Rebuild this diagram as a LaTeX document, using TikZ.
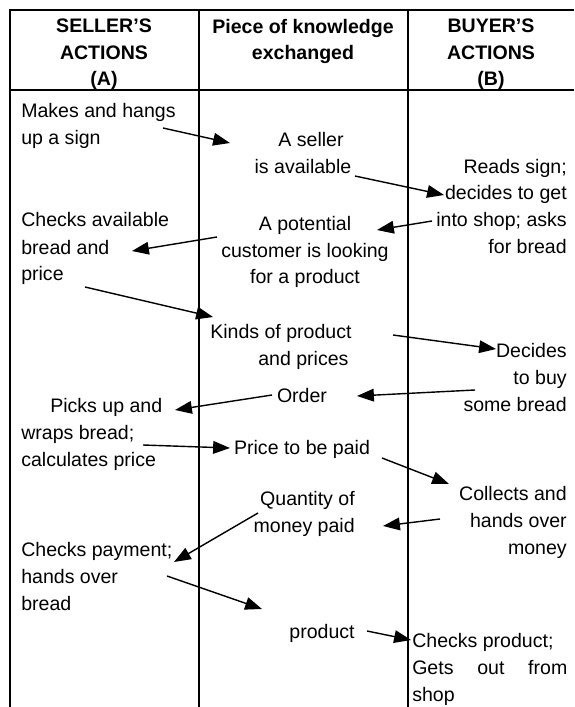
\documentclass[tikz,border=0pt]{standalone}
\usepackage{fontspec}
\setmainfont{Liberation Sans}
\usetikzlibrary{arrows.meta}

\tikzset{
  rule/.style={line width=1.4pt},
  flow/.style={line width=1pt, -{Triangle[length=12pt,width=9pt]}},
  head/.style={font=\fontsize{13.9}{18.9}\selectfont\bfseries, align=center, anchor=base, inner sep=0pt},
  say/.style={font=\fontsize{13.9}{19.2}\selectfont, inner sep=0pt},
}

\begin{document}
\begin{tikzpicture}[x=0.025cm, y=-0.025cm]
  \useasboundingbox (0,0) rectangle (574,707);

  % draw table frame
  \draw[rule] (574,10) -- (10,10) -- (10,707);
  \draw[rule] (10,90) -- (574,90);
  \draw[rule] (199,10) -- (199,707);
  \draw[rule] (408,10) -- (408,707);

  % column heads (placed by their last line)
  \node[head] (sellerhead) at (104,86) {SELLER'S\\ACTIONS\\(A)};
  \node[head] (piecehead)  at (303,60) {Piece of knowledge\\exchanged};
  \node[head] (buyerhead)  at (491,86) {BUYER'S\\ACTIONS\\(B)};

  % seller's actions
  \node[say, align=left, anchor=base west] (makes)    at (21,145) {Makes and hangs\\up a sign};
  \node[say, align=left, anchor=base west] (checks)   at (21,281) {Checks available\\bread and\\price};
  \node[say, align=left, anchor=base west] (picks)    at (21,466) {\hspace*{0.725cm}Picks up and\\wraps bread;\\calculates price};
  \node[say, align=left, anchor=base west] (checkpay) at (21,610) {Checks payment;\\hands over\\bread};

  % pieces of knowledge
  \node[say, align=center, anchor=base] (seller)    at (303,174) {\hspace*{0.4cm}A seller\\is available};
  \node[say, align=center, anchor=base] (potential) at (305,284) {A potential\\customer is looking\\for a product};
  \node[say, align=left, anchor=base west] (kinds)  at (210,365) {Kinds of product\\\hspace*{1.2cm}and prices};
  \node[say, anchor=base] (order)   at (302,402) {Order};
  \node[say, anchor=base] (price)   at (302,454) {Price to be paid};
  \node[say, align=right, anchor=base east] (quantity) at (355,532) {Quantity of\\money paid};
  \node[say, anchor=base] (product) at (322,638) {product};

  % buyer's actions
  \node[say, align=right, anchor=base east] (reads)    at (567,254) {Reads sign;\\decides to get\\into shop; asks\\for bread};
  \node[say, align=right, anchor=base east] (decides)  at (567,411) {Decides\\to buy\\some bread};
  \node[say, align=right, anchor=base east] (collects) at (567,554) {Collects and\\hands over\\money};
  \node[say, align=left, anchor=base west]  (checkprod) at (412,701) {Checks product;\\\makebox[3.875cm][s]{Gets out from}\\shop};

  % arrow ends
  \coordinate (signtail)   at (163,128);
  \coordinate (signtip)    at (230,143);
  \coordinate (availtail)  at (355,176);
  \coordinate (availtip)   at (444,195);
  \coordinate (askstail)   at (432,221);
  \coordinate (askstip)    at (377,230);
  \coordinate (lookstail)  at (217,237);
  \coordinate (lookstip)   at (132,251);
  \coordinate (pricetail)  at (85,287);
  \coordinate (pricetip)   at (213,317);
  \coordinate (kindstail)  at (393,335);
  \coordinate (kindstip)   at (496,349);
  \coordinate (buytail)    at (475,390);
  \coordinate (buytip)     at (357,396);
  \coordinate (ordertail)  at (272,395);
  \coordinate (ordertip)   at (175,410);
  \coordinate (wrapstail)  at (143,445);
  \coordinate (wrapstip)   at (230,448);
  \coordinate (paidtail)   at (382,458);
  \coordinate (paidtip)    at (449,484);
  \coordinate (moneytail)  at (440,519);
  \coordinate (moneytip)   at (383,526);
  \coordinate (qtytail)    at (258,513);
  \coordinate (qtytip)     at (174,562);
  \coordinate (handstail)  at (167,576);
  \coordinate (handstip)   at (262,609);
  \coordinate (prodtail)   at (367,631);
  \coordinate (prodtip)    at (411,640);

  % draw exchanges
  \draw[flow] (signtail)  -- (signtip);
  \draw[flow] (availtail) -- (availtip);
  \draw[flow] (askstail)  -- (askstip);
  \draw[flow] (lookstail) -- (lookstip);
  \draw[flow] (pricetail) -- (pricetip);
  \draw[flow] (kindstail) -- (kindstip);
  \draw[flow] (buytail)   -- (buytip);
  \draw[flow] (ordertail) -- (ordertip);
  \draw[flow] (wrapstail) -- (wrapstip);
  \draw[flow] (paidtail)  -- (paidtip);
  \draw[flow] (moneytail) -- (moneytip);
  \draw[flow] (qtytail)   -- (qtytip);
  \draw[flow] (handstail) -- (handstip);
  \draw[flow] (prodtail)  -- (prodtip);
\end{tikzpicture}
\end{document}
